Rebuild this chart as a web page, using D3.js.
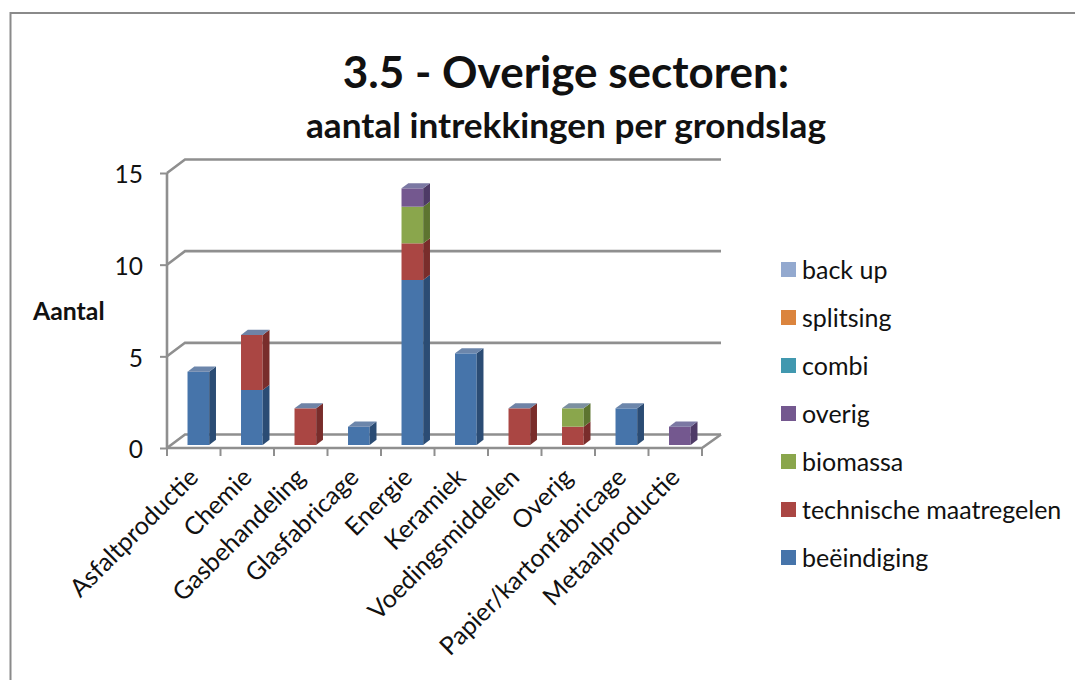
<!DOCTYPE html>
<html>
<head>
<meta charset="utf-8">
<script src="https://cdnjs.cloudflare.com/ajax/libs/d3/7.8.5/d3.min.js"></script>
<style>
	html, body { margin: 0; padding: 0; background: #fff; }
	svg { display: block; }
	text { font-family: Lato, "Open Sans", sans-serif; fill: #111; }
</style>
</head>
<body>
<div id="chart"></div>
<script>
var categories = ['Asfaltproductie', 'Chemie', 'Gasbehandeling', 'Glasfabricage', 'Energie', 'Keramiek', 'Voedingsmiddelen', 'Overig', 'Papier/kartonfabricage', 'Metaalproductie'];
var seriesNames = ['beëindiging', 'technische maatregelen', 'biomassa', 'overig', 'combi', 'splitsing', 'back up'];
var beeindiging = [4, 3, 0, 1, 9, 5, 0, 0, 2, 0];
var technisch = [0, 3, 2, 0, 2, 0, 2, 1, 0, 0];
var biomassa = [0, 0, 0, 0, 2, 0, 0, 1, 0, 0];
var overig = [0, 0, 0, 0, 1, 0, 0, 0, 0, 1];
var combi = [0, 0, 0, 0, 0, 0, 0, 0, 0, 0];
var splitsing = [0, 0, 0, 0, 0, 0, 0, 0, 0, 0];
var backUp = [0, 0, 0, 0, 0, 0, 0, 0, 0, 0];
var yTicks = [0, 5, 10, 15];

var frontColors = ['#4674aa', '#aa4643', '#8aa64c', '#74588f', '#4198af', '#db843d', '#93a9cf'];
var sideColors = ['#2b4c74', '#792d2b', '#5d7430', '#4e3a66', '#2b6b7c', '#a05c25', '#6a7fa3'];
var topColors = ['#6c86ab', '#6f83a6', '#7c90a0', '#7b78a3', '#6c9aac', '#b08f70', '#a4b5d3'];

var w = 1075, h = 680
	, depthX = 18, depthY = 13.5      // floor depth of the 3d box
	, barDX = 4.6, barDY = 3          // bar stands a little behind the front edge
	, sideX = 6.8, sideY = 5.2        // bar's own depth
	, grid = '#8f8f8f'
	;

var svg = d3.select('#chart').append('svg').attr('width', w).attr('height', h);

var x = d3.scaleBand().domain(categories).range([167, 702]).paddingInner(0.595).paddingOuter(0.2975);
var y = d3.scaleLinear().domain([0, 15]).range([448, 173]);

// outer frame
svg.append('path').attr('d', 'M10.5,680V13H1075').attr('fill', 'none').attr('stroke', '#8a8a8a').attr('stroke-width', 2);

// title
svg.append('text').attr('x', 566).attr('y', 88).attr('text-anchor', 'middle')
	.attr('font-size', 44).attr('font-weight', 700).text('3.5 - Overige sectoren:');
svg.append('text').attr('x', 566).attr('y', 138).attr('text-anchor', 'middle')
	.attr('font-size', 35.2).attr('font-weight', 700).text('aantal intrekkingen per grondslag');
svg.append('text').attr('x', 33).attr('y', 320)
	.attr('font-size', 24.8).attr('font-weight', 700).text('Aantal');

// gridlines, back wall and side wall
svg.selectAll('path.grid').data(yTicks).enter().append('path').attr('class', 'grid')
	.attr('d', function(d){
		return 'M167,' + y(d) + 'L' + (167 + depthX) + ',' + (y(d) - depthY) + 'H721';
	})
	.attr('fill', 'none').attr('stroke', grid).attr('stroke-width', 2.6);

// floor front and right edge
svg.append('path').attr('d', 'M167,' + y(0) + 'H702L721,' + (y(0) - depthY))
	.attr('fill', 'none').attr('stroke', grid).attr('stroke-width', 2.6);

// axes
var yAxis = d3.axisLeft(y).tickValues(yTicks).tickSize(7).tickPadding(17);
var gy = svg.append('g').attr('transform', 'translate(167,0)').call(yAxis);
gy.select('.domain').attr('stroke', grid).attr('stroke-width', 2.6).attr('d', 'M0,' + y(15) + 'V' + y(0));
gy.selectAll('line').attr('stroke', grid).attr('stroke-width', 2);
gy.selectAll('text').attr('font-size', 24.5).attr('font-family', 'Lato').attr('fill', '#111').attr('y', 2);

var xAxis = d3.axisBottom(x).tickSize(0).tickPadding(0);
var gx = svg.append('g').attr('transform', 'translate(0,' + y(0) + ')').call(xAxis);
gx.select('.domain').remove();
gx.selectAll('line').remove();
gx.selectAll('text')
	.attr('font-size', 25).attr('font-family', 'Lato').attr('fill', '#111')
	.attr('text-anchor', 'end').attr('dy', 0).attr('y', 0)
	.attr('transform', 'translate(6,31) rotate(-45)');

// tick marks sit between categories
var tickPos = categories.map(function(d){ return x(d) - x.step() * x.paddingOuter(); });
tickPos.push(702);
svg.selectAll('line.xt').data(tickPos).enter().append('line').attr('class', 'xt')
	.attr('x1', function(d){ return d; }).attr('x2', function(d){ return d; })
	.attr('y1', y(0)).attr('y2', y(0) + 8)
	.attr('stroke', grid).attr('stroke-width', 2);

// stacked 3d bars
var rows = categories.map(function(c, i){
	return { cat: c, 0: beeindiging[i], 1: technisch[i], 2: biomassa[i], 3: overig[i], 4: combi[i], 5: splitsing[i], 6: backUp[i] };
});
var keys = d3.range(seriesNames.length);
var stacked = d3.stack().keys(keys)(rows);

categories.forEach(function(c, i){
	var g = svg.append('g').attr('class', 'bar')
		, x0 = x(c) + barDX
		, x1 = x0 + x.bandwidth()
		, segs = stacked.map(function(s){ return { k: s.key, lo: s[i][0], hi: s[i][1] }; }).filter(function(s){ return s.hi > s.lo; })
		;

	g.selectAll('g').data(segs).enter().each(function(s, j){
		var y0 = y(s.lo) - barDY, y1 = y(s.hi) - barDY, seg = d3.select(this).append('g');

		seg.append('rect').attr('x', x0).attr('y', y1).attr('width', x1 - x0).attr('height', y0 - y1).attr('fill', frontColors[s.k]);
		seg.append('path').attr('fill', sideColors[s.k])
			.attr('d', 'M' + x1 + ',' + y0 + 'L' + (x1 + sideX) + ',' + (y0 - sideY) + 'V' + (y1 - sideY) + 'L' + x1 + ',' + y1 + 'Z');
		if( j === segs.length - 1 ){
			seg.append('path').attr('fill', topColors[s.k])
				.attr('d', 'M' + x0 + ',' + y1 + 'L' + (x0 + sideX) + ',' + (y1 - sideY) + 'H' + (x1 + sideX) + 'L' + x1 + ',' + y1 + 'Z');
		}
	});
});

// legend, reversed like the original
var legend = svg.selectAll('g.legend').data(seriesNames.slice().reverse()).enter().append('g').attr('class', 'legend')
	.attr('transform', function(d, i){ return 'translate(781,' + (262 + i * 48) + ')'; });
legend.append('rect').attr('width', 15).attr('height', 15).attr('fill', function(d){
	return frontColors[seriesNames.indexOf(d)];
});
legend.append('text').attr('x', 21).attr('y', 17).attr('font-size', 25).text(function(d){ return d; });
</script>
</body>
</html>
